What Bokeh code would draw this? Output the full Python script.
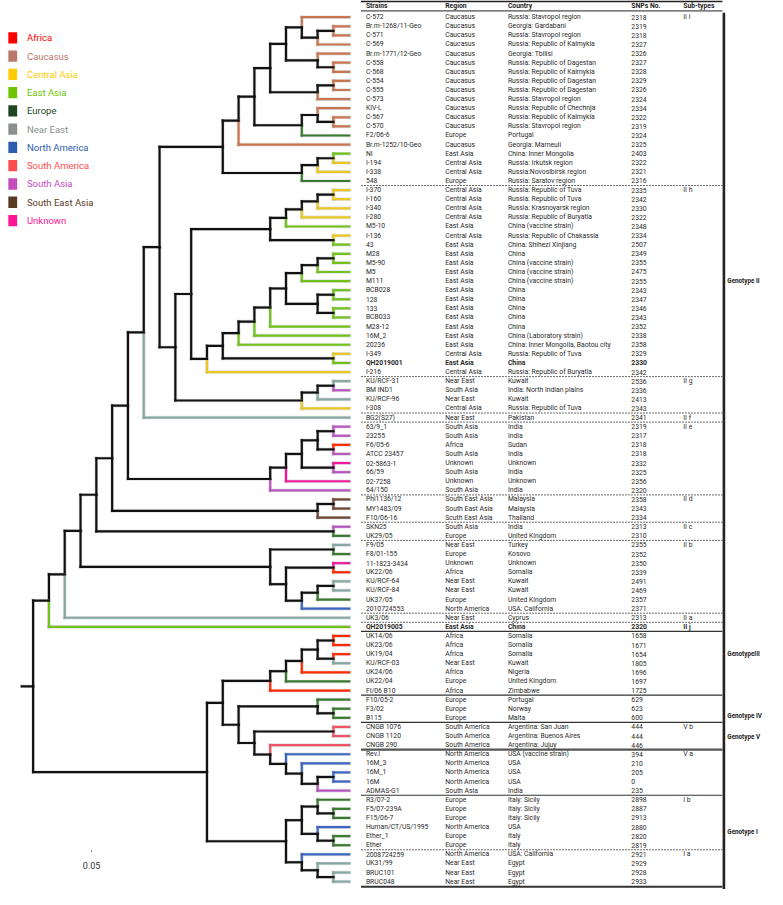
import re
from bokeh.plotting import figure
from bokeh.models import Range1d, ColumnDataSource
from bokeh.embed import file_html
from bokeh.resources import INLINE
from bokeh.core.properties import value

# ---------------- data ----------------
STRAINS = ["C-572", "Br.m-1268/11-Geo", "C-571", "C-569", "Br.m-1771/12-Geo", "C-558", "C-568", "C-554",
           "C-555", "C-573", "KIV-L", "C-567", "C-570", "F2/06-6", "Br.m-1252/10-Geo", "NI", "I-194", "I-338",
           "548", "I-370", "I-160", "I-340", "I-280", "M5-10", "I-136", "43", "M28", "M5-90", "M5", "M111",
           "BCB028", "128", "133", "BCB033", "M28-12", "16M_2", "20236", "I-349", "QH2019001", "I-216",
           "KU/RCF-31", "BM IND1", "KU/RCF-96", "I-308", "BG2(S27)", "63/9_1", "23255", "F6/05-6",
           "ATCC 23457", "02-5863-1", "66/59", "02-7258", "64/150", "Phi1136/12", "MY1483/09", "F10/06-16",
           "SKN25", "UK29/05", "F9/05", "F8/01-155", "11-1823-3434", "UK22/06", "KU/RCF-64", "KU/RCF-84",
           "UK37/05", "2010724553", "UK3/06", "QH2019005", "UK14/06", "UK23/06", "UK19/04", "KU/RCF-03",
           "UK24/06", "UK22/04", "FI/06 B10", "F10/05-2", "F3/02", "B115", "CNGB 1076", "CNGB 1120",
           "CNGB 290", "Rev.I", "16M_3", "16M_1", "16M", "ADMAS-G1", "R3/07-2", "F5/07-239A", "F15/06-7",
           "Human/CT/US/1995", "Ether_1", "Ether", "2008724259", "UK31/99", "BRUC101", "BRUC048"]

REGIONS = (["Caucasus"] * 13 + ["Europe", "Caucasus"]
           + ["East Asia", "Central Asia", "Central Asia", "Europe"]
           + ["Central Asia"] * 4 + ["East Asia", "Central Asia"] + ["East Asia"] * 12
           + ["Central Asia", "East Asia", "Central Asia"]
           + ["Near East", "South Asia", "Near East", "Central Asia", "Near East"]
           + ["South Asia", "South Asia", "Africa", "South Asia", "Unknown", "South Asia", "Unknown", "South Asia"]
           + ["South East Asia", "South East Asia", "Scuth East Asia"]
           + ["South Asia", "Europe"]
           + ["Near East", "Europe", "Unknown", "Africa", "Near East", "Near East", "Europe", "North America",
              "Near East", "East Asia"]
           + ["Africa", "Africa", "Africa", "Near East", "Africa", "Europe", "Africa"]
           + ["Europe"] * 3 + ["South America"] * 3 + ["North America"] * 4 + ["South Asia"]
           + ["Europe"] * 3 + ["North America", "Europe", "Europe"]
           + ["North America", "Near East", "Near East", "Near East"])

COUNTRIES = ["Russia: Stavropol region", "Georgia: Gardabani", "Russia: Stavropol region",
             "Russia: Republic of Kalmykia", "Georgia: Tbilisi", "Russia: Republic of Dagestan",
             "Russia: Republic of Kalmykia", "Russia: Republic of Dagestan", "Russia: Republic of Dagestan",
             "Russia: Stavropol region", "Russia: Republic of Chechnja", "Russia: Republic of Kalmykia",
             "Russia: Stavropol region", "Portugal", "Georgia: Marneuli", "China: Inner Mongolia",
             "Russia: Irkutsk region", "Russia:Novosibirsk region", "Russia: Saratov region",
             "Russia: Republic of Tuva", "Russia: Republic of Tuva", "Russia: Krasnoyarsk region",
             "Russia: Republic of Buryatia", "China (vaccine strain)", "Russia: Republic of Chakassia",
             "China: Shihezi Xinjiang", "China", "China (vaccine strain)", "China (vaccine strain)",
             "China (vaccine strain)", "China", "China", "China", "China", "China", "China (Laboratory strain)",
             "China: Inner Mongolia, Baotou city", "Russia: Republic of Tuva", "China",
             "Russia: Republic of Buryatia", "Kuwait", "India: North Indian plains", "Kuwait",
             "Russia: Republic of Tuva", "Pakistan", "India", "India", "Sudan", "India", "Unknown", "India",
             "Unknown", "India", "Malaysia", "Malaysia", "Thailand", "India", "United Kingdom", "Turkey",
             "Kosovo", "Unknown", "Somalia", "Kuwait", "Kuwait", "United Kingdom", "USA: California", "Cyprus",
             "China", "Somalia", "Somalia", "Somalia", "Kuwait", "Nigeria", "United Kingdom", "Zimbabwe",
             "Portugal", "Norway", "Malta", "Argentina: San Juan", "Argentina: Buenos Aires",
             "Argentina: Jujuy", "USA (vaccine strain)", "USA", "USA", "USA", "India", "Italy: Sicily",
             "Italy: Sicily", "Italy: Sicily", "USA", "Italy", "Italy", "USA: California", "Egypt", "Egypt",
             "Egypt"]

SNPS = [2318, 2319, 2318, 2327, 2326, 2327, 2328, 2329, 2326, 2324, 2334, 2322, 2319, 2324, 2325,
        2403, 2322, 2321, 2316,
        2335, 2342, 2330, 2322, 2348, 2334, 2507, 2349, 2355, 2475, 2355, 2343,
        2347, 2346, 2343, 2352, 2338, 2358, 2329, 2330, 2342, 2536, 2336, 2413, 2343, 2341, 2319, 2317,
        2318, 2318, 2332, 2325, 2356, 2320, 2358, 2343, 2334, 2313, 2310, 2355, 2352, 2350, 2339, 2491, 2469,
        2357, 2371, 2313, 2320, 1658, 1671, 1654, 1805, 1696, 1697, 1725, 629, 623, 600, 444, 444, 446,
        394, 210, 205, 0, 235, 2898, 2887, 2913, 2880, 2820, 2819, 2921, 2929, 2928, 2933]

SUBTYPE_ROWS = [1, 20, 41, 45, 46, 54, 57, 59, 67, 68, 79, 82, 87, 93]
SUBTYPES = ["II i", "II h", "II g", "II f", "II e", "II d", "II c", "II b", "II a", "II j",
            "V b", "V a", "I b", "I a"]
BOLD_ROWS = [39, 68]
HEADERS = ["Strains", "Region", "Country", "SNPs No.", "Sub-types"]
GENOTYPES = ["Genotype II", "GenotypeIII", "Genotype  IV", "Genotype V", "Genotype I"]
LEGEND = ["Africa", "Caucasus", "Central Asia", "East Asia", "Europe", "Near East", "North America",
          "South America", "South Asia", "South East Asia", "Unknown"]
SCALE_LABEL = "0.05"

# Cladogram: leaves are table rows; "(a,b)n" = internal node at level n (steps back from the tips)
CLADES = [
    ("D", "((1,((2,3)1,4)2)3,(5,(6,7)1)2)4"),
    ("G", "({D},((8,9)1,10)2)5"),
    ("J", "({G},((11,(12,13)1)2,14)3)6"),
    ("M", "(({J},15)7,(((16,17)1,18)2,19)3)8"),
    ("Q", "(((((20,21)1,22)2,23)3,24)4,(25,26)1)5"),
    ("S", "((((27,28)1,29)2,30)3,((31,32)1,(33,34)1)2)4"),
    ("U", "((((({S},35)5,36)6,37)7,(38,39)1)8,40)9"),
    ("N", "({M},(({Q},{U})10,(((41,42)1,43)2,44)3)11)12"),
    ("Y", "(({N},45)13,(((((46,47)1,(48,49)1)2,(50,51)1)3,52)4,53)5)14"),
    ("AC", "(({Y},((54,55)1,56)2)15,(57,58)1)16"),
    ("AG", "((({AC},((59,60)1,((61,62)1,(((63,64)1,65)2,66)3)4)5)17,67)18,68)19"),
    ("AL", "(((((((69,70)1,(71,72)1)2,73)3,74)4,75)5,((76,(77,78)1)2,((79,80)1,(81,(82,(83,((84,85)1,86)2)3)4)5)6)7)8,"
           "(((87,(88,89)1)2,(90,(91,92)1)2)3,(93,(94,(95,96)1)2)3)4)9"),
    ("ROOT", "({AG},{AL})20"),
]

# ---------------- styles / layout ----------------
TREE_COL = {"Africa": "#ff2a00", "Caucasus": "#c8764f", "Central Asia": "#ebc724", "East Asia": "#72c21c",
            "Europe": "#3a7a30", "Near East": "#86a8a2", "North America": "#3b67c2",
            "South America": "#ec5566", "South Asia": "#b756c0", "South East Asia": "#6b4535",
            "Scuth East Asia": "#6b4535", "Unknown": "#f01aa0"}
LEG_COL = {"Africa": "#ff0000", "Caucasus": "#b8786a", "Central Asia": "#ffcc00", "East Asia": "#6cc400",
           "Europe": "#1e4620", "Near East": "#8b8f8f", "North America": "#2e5cb0",
           "South America": "#ff4c4c", "South Asia": "#c64bbf", "South East Asia": "#5b3a24",
           "Unknown": "#ff1493"}
ROW0, ROW_STEP = 17.0, 9.263
LEAF_X, LEVEL_STEP = 356.0, 16.135
COL_X = [373, 454, 518, 644, 697]
TABLE_X0, TABLE_X1 = 368, 737
DASHED_AFTER = [19, 40, 44, 45, 53, 56, 58, 66, 67, 92]
SOLID_AFTER = [68, 75, 78, 86]
DOUBLE_AFTER = [81]
GENO_ROWS = [30.0, 71.0, 77.8, 80.1, 90.6]
FONT = "Roboto"
TXT = "#2a2a2a"


def row_y(r):
    return ROW0 + (r - 1) * ROW_STEP


def lvl_x(l):
    return LEAF_X - l * LEVEL_STEP


def expand():
    done = {}
    for name, s in CLADES:
        for k, v in done.items():
            s = s.replace("{" + k + "}", v)
        done[name] = s
    return done["ROOT"]


def parse(s):
    s = re.sub(r"\s+", "", s)
    pos = 0

    def node():
        nonlocal pos
        if s[pos] == "(":
            pos += 1
            kids = [node()]
            while s[pos] == ",":
                pos += 1
                kids.append(node())
            pos += 1  # ')'
            m = re.match(r"\d+", s[pos:])
            pos += m.end()
            return {"level": int(m.group()), "kids": kids}
        m = re.match(r"\d+", s[pos:])
        pos += m.end()
        return {"leaf": int(m.group())}

    return node()


tree = parse(expand())
seg = {"x0": [], "y0": [], "x1": [], "y1": [], "c": []}


def place(n):
    if "leaf" in n:
        n["x"], n["y"] = LEAF_X, row_y(n["leaf"])
        n["col"] = TREE_COL[REGIONS[n["leaf"] - 1]]
        return
    for k in n["kids"]:
        place(k)
    n["x"] = lvl_x(n["level"])
    n["y"] = (n["kids"][0]["y"] + n["kids"][-1]["y"]) / 2
    n["col"] = "#111111"
    for k in n["kids"]:
        for a in ((n["x"], n["y"], n["x"], k["y"]), (n["x"], k["y"], k["x"], k["y"])):
            seg["x0"].append(a[0]); seg["y0"].append(a[1])
            seg["x1"].append(a[2]); seg["y1"].append(a[3])
            seg["c"].append(k["col"])


place(tree)
seg["x0"].append(tree["x"] - 0.72 * LEVEL_STEP); seg["y0"].append(tree["y"])
seg["x1"].append(tree["x"]); seg["y1"].append(tree["y"]); seg["c"].append("#111111")

# ---------------- figure ----------------
p = figure(width=767, height=889, x_range=Range1d(0, 783), y_range=Range1d(905, 0),
           output_backend="svg", toolbar_location=None, min_border=0)
p.axis.visible = False
p.grid.visible = False
p.outline_line_color = None
p.background_fill_color = "white"

src = ColumnDataSource(seg)
p.segment("x0", "y0", "x1", "y1", source=src, line_color="#cfcfcf", line_width=3.6, line_alpha=0.6,
          line_cap="square")
p.segment("x0", "y0", "x1", "y1", source=src, line_color="c", line_width=2.2, line_cap="square")

# legend
ly = [38 + i * 18.6 for i in range(len(LEGEND))]
p.rect(x=[12.5] * len(LEGEND), y=ly, width=9, height=11.5, fill_color=[LEG_COL[k] for k in LEGEND],
       line_color=None)
p.text(x=[27] * len(LEGEND), y=ly, text=LEGEND, text_color=[LEG_COL[k] for k in LEGEND],
       text_font=value(FONT), text_font_size="9.5px", text_baseline="middle")

# table header
p.text(x=COL_X, y=[5.6] * 5, text=HEADERS, text_font=value(FONT), text_font_size="6.8px",
       text_font_style="bold", text_color="#222222", text_baseline="middle")
p.segment(x0=[TABLE_X0], y0=[0.8], x1=[TABLE_X1], y1=[0.8], line_color="#222222", line_width=1.8)
p.segment(x0=[TABLE_X0], y0=[10.6], x1=[TABLE_X1], y1=[10.6], line_color="#222222", line_width=1.0)

# table body
rows = list(range(1, len(STRAINS) + 1))
cols = [STRAINS, REGIONS, COUNTRIES, [str(v) for v in SNPS]]
for ci, colvals in enumerate(cols):
    for bold in (False, True):
        sel = [r for r in rows if (r in BOLD_ROWS) == bold]
        p.text(x=[COL_X[ci]] * len(sel), y=[row_y(r) for r in sel], text=[colvals[r - 1] for r in sel],
               text_font=value(FONT), text_font_size="6.8px", text_color=TXT, text_baseline="middle",
               text_font_style="bold" if bold else "normal")
for bold in (False, True):
    sel = [i for i, r in enumerate(SUBTYPE_ROWS) if (r in BOLD_ROWS) == bold]
    p.text(x=[COL_X[4]] * len(sel), y=[row_y(SUBTYPE_ROWS[i]) for i in sel], text=[SUBTYPES[i] for i in sel],
           text_font=value(FONT), text_font_size="6.8px", text_color=TXT, text_baseline="middle",
           text_font_style="bold" if bold else "normal")


def sep_y(r):
    return row_y(r) + ROW_STEP / 2


p.segment(x0=[TABLE_X0] * len(DASHED_AFTER), y0=[sep_y(r) for r in DASHED_AFTER],
          x1=[TABLE_X1] * len(DASHED_AFTER), y1=[sep_y(r) for r in DASHED_AFTER],
          line_color="#444444", line_width=0.8, line_dash="2 1")
p.segment(x0=[TABLE_X0] * len(SOLID_AFTER), y0=[sep_y(r) for r in SOLID_AFTER],
          x1=[TABLE_X1] * len(SOLID_AFTER), y1=[sep_y(r) for r in SOLID_AFTER],
          line_color="#333333", line_width=1.1)
p.segment(x0=[TABLE_X0] * len(DOUBLE_AFTER), y0=[sep_y(r) for r in DOUBLE_AFTER],
          x1=[TABLE_X1] * len(DOUBLE_AFTER), y1=[sep_y(r) for r in DOUBLE_AFTER],
          line_color="#555555", line_width=2.2)
p.segment(x0=[TABLE_X0], y0=[sep_y(len(STRAINS)) + 0.6], x1=[TABLE_X1], y1=[sep_y(len(STRAINS)) + 0.6],
          line_color="#333333", line_width=1.8)

# genotype bar and labels
p.segment(x0=[738.5], y0=[12.5], x1=[738.5], y1=[905], line_color="#222222", line_width=2.6)
p.text(x=[742] * len(GENOTYPES), y=[row_y(r) for r in GENO_ROWS], text=GENOTYPES, text_font=value(FONT),
       text_font_size="6.3px", text_font_style="bold", text_color="#222222", text_baseline="middle")

# scale
p.segment(x0=[92.5], y0=[866], x1=[93.5], y1=[866], line_color="#333333", line_width=1.2)
p.text(x=[93], y=[881], text=[SCALE_LABEL], text_font=value(FONT), text_font_size="9px",
       text_color="#333333", text_align="center", text_baseline="middle")

open("out.html", "w").write(file_html(p, INLINE))
